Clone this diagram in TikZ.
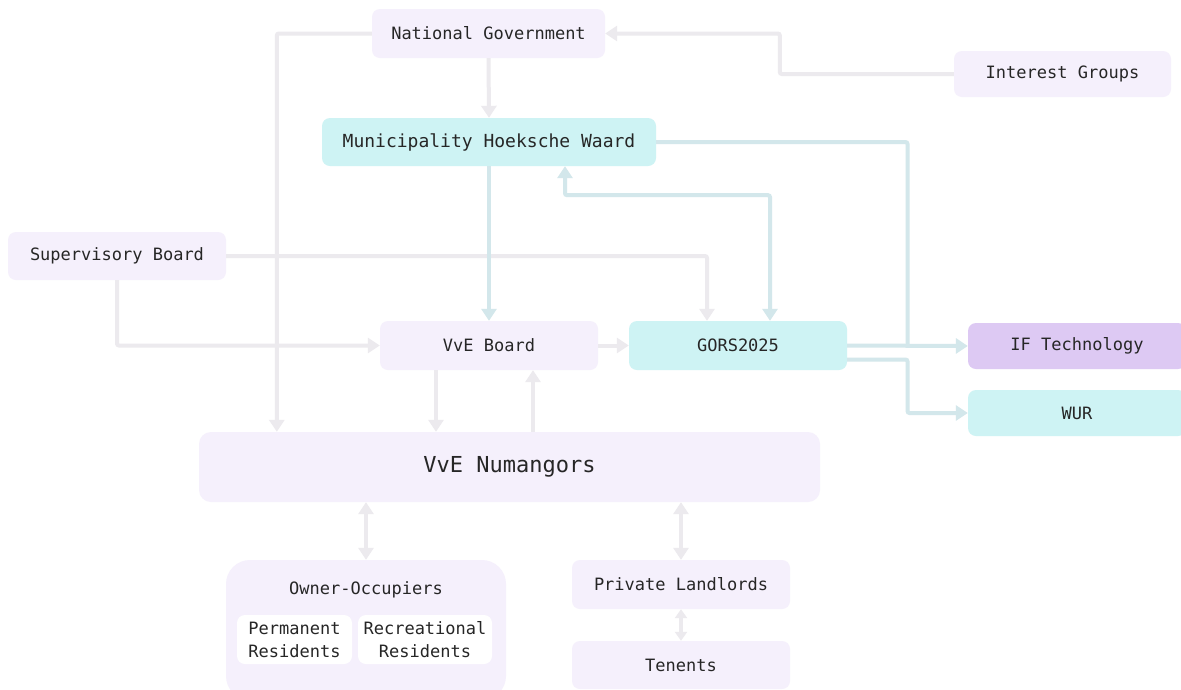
\documentclass[tikz,border=0pt]{standalone}
\usepackage{fontspec}
\setmonofont{DejaVu Sans Mono}
\usetikzlibrary{arrows.meta,calc}
\definecolor{lav}{HTML}{F5F0FC}
\definecolor{cyn}{HTML}{CEF3F4}
\definecolor{pur}{HTML}{DDC9F3}
\definecolor{gline}{HTML}{ECEAEE}
\definecolor{cline}{HTML}{D3E7EB}
\definecolor{txt}{HTML}{262626}
\begin{document}
\begin{tikzpicture}[x=1pt,y=-1pt,
  box/.style={rounded corners=8pt, inner sep=0pt, text=txt, align=center,
    font=\ttfamily\fontsize{17}{23}\selectfont},
  lavbox/.style={box, fill=lav},
  cynbox/.style={box, fill=cyn},
  purbox/.style={box, fill=pur},
  whitebox/.style={box, fill=white},
  tip/.style={-{Triangle[width=15pt,length=12pt]}},
  gl/.style={draw=gline, line width=4pt, rounded corners=2pt},
  cl/.style={draw=cline, line width=4pt, rounded corners=2pt}]
\useasboundingbox (0,0) rectangle (1181,689);
\clip (0,0) rectangle (1181,689);
\fill[white] (0,0) rectangle (1181,689);

% nodes
\node[lavbox, minimum width=233pt, minimum height=49pt] (ng) at (488.5,33.5) {National Government};
\node[lavbox, minimum width=217pt, minimum height=46pt] (ig) at (1062.5,74) {Interest Groups};
\node[cynbox, minimum width=334pt, minimum height=48pt, font=\ttfamily\fontsize{18}{22}\selectfont] (mun) at (489,142) {Municipality Hoeksche Waard};
\node[lavbox, minimum width=218pt, minimum height=48pt] (sb) at (117,256) {Supervisory Board};
\node[lavbox, minimum width=218pt, minimum height=49pt] (vb) at (489,345.5) {VvE Board};
\node[cynbox, minimum width=218pt, minimum height=49pt] (gors) at (738,345.5) {GORS2025};
\node[purbox, minimum width=218pt, minimum height=46pt] (ift) at (1077,346) {IF Technology};
\node[cynbox, minimum width=218pt, minimum height=46pt] (wur) at (1077,413) {WUR};
\node[lavbox, rounded corners=12pt, minimum width=621pt, minimum height=70pt, font=\ttfamily\fontsize{22}{26}\selectfont] (vn) at (509.5,467) {VvE Numangors};
\node[lavbox, rounded corners=24pt, minimum width=280pt, minimum height=140pt] (oc) at (366,630) {};
\node[box, anchor=center] (octxt) at (366,590) {Owner-Occupiers};
\node[whitebox, minimum width=115pt, minimum height=49pt] (pr) at (294.5,639.5) {Permanent\\Residents};
\node[whitebox, minimum width=134pt, minimum height=49pt] (rr) at (425,639.5) {Recreational\\Residents};
\node[lavbox, minimum width=218pt, minimum height=49pt] (pl) at (681,584.5) {Private Landlords};
\node[lavbox, minimum width=218pt, minimum height=48pt] (ten) at (681,665) {Tenents};

% helper coordinates
\coordinate (vnx) at ([xshift=78pt]vn.north west);
\coordinate (igc) at ([xshift=-174pt]ig.west);
\coordinate (gx1) at ([xshift=-31pt]gors.north);
\coordinate (b1) at ([xshift=-53pt]vb.south);
\coordinate (b2) at ([xshift=44pt]vb.south);
\coordinate (j1) at ($(gors.east)!0.5!(ift.west)$);
\coordinate (g2) at ([yshift=-14pt]gors.east);
\coordinate (j2) at (j1 |- wur.west);
\coordinate (m1) at ([xshift=76pt]mun.south);
\coordinate (g1) at ([xshift=32pt]gors.north);

% gray connectors
\draw[gl, tip] (ng.west) -| (vnx);
\draw[gl, tip] (ng.south) -- (mun.north);
\draw[gl, tip] (ig.west) -- (igc) |- (ng.east);
\draw[gl, tip] (sb.east) -| (gx1);
\draw[gl, tip] (sb.south) |- (vb.west);
\draw[gl, tip] (vb.east) -- (gors.west);
\draw[gl, tip] (b1) -- (b1 |- vn.north);
\draw[gl, tip] (b2 |- vn.north) -- (b2);
\draw[gl, {Triangle[width=15pt,length=12pt]}-{Triangle[width=15pt,length=12pt]}] (oc.north |- vn.south) -- (oc.north);
\draw[gl, {Triangle[width=15pt,length=12pt]}-{Triangle[width=15pt,length=12pt]}] (pl.north |- vn.south) -- (pl.north);
\draw[gl, {Triangle[width=12pt,length=9pt]}-{Triangle[width=12pt,length=9pt]}] (pl.south) -- (ten.north);

% cyan connectors
\draw[cl, tip] (mun.south) -- (vb.north);
\draw[cl, tip] (gors.east) -- (ift.west);
\draw[cl] (mun.east) -| (j1);
\draw[cl, tip] (g2) -| (j2) -- (wur.west);
\draw[cl, {Triangle[width=15pt,length=12pt]}-{Triangle[width=15pt,length=12pt]}] (m1) -- ++(0,29) -| (g1);
\end{tikzpicture}
\end{document}
